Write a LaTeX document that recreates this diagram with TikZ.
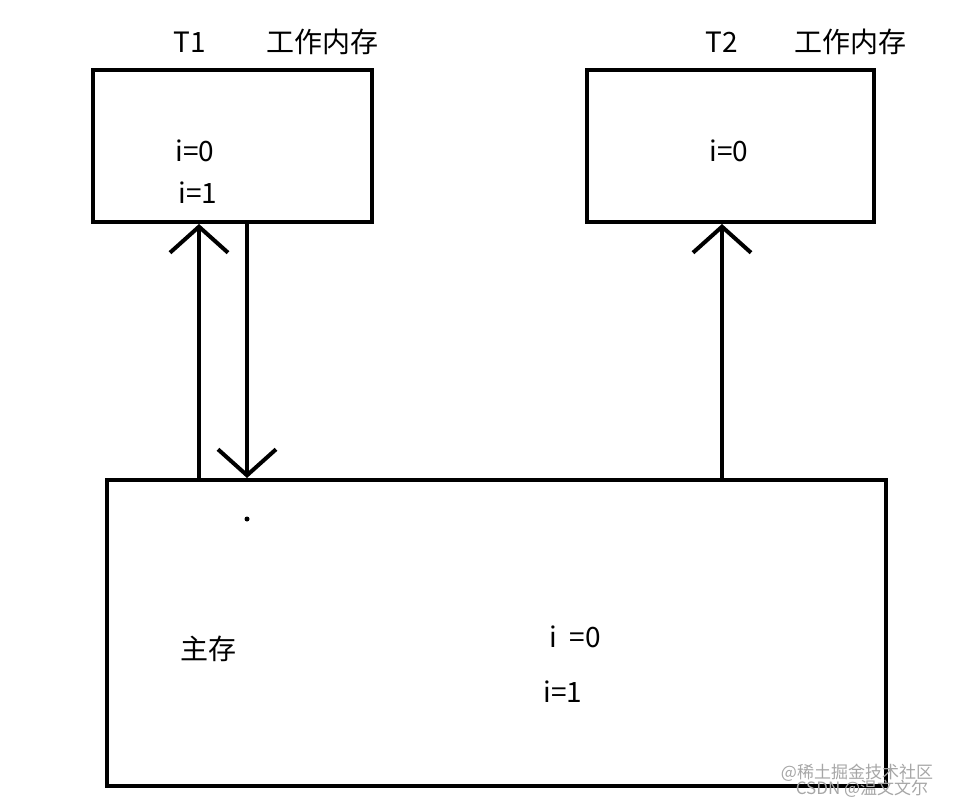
\documentclass[tikz,border=0pt]{standalone}
\usepackage{fontspec}
\setmainfont{Noto Sans CJK SC}
\usetikzlibrary{arrows.meta}
\begin{document}
\begin{tikzpicture}[x=1pt,y=-1pt,
  box/.style={draw,line width=4pt},
  conn/.style={line width=4pt,-{Straight Barb[length=26pt,width=58pt,line width=4pt]}},
  lbl/.style={font=\fontsize{28}{32}\selectfont},
  wm/.style={font=\fontsize{17}{19}\selectfont,text=gray!70}]
\useasboundingbox (0,0) rectangle (956,808);
\draw[box] (93,70) rectangle (372,222);
\draw[box] (587,70) rectangle (874,222);
\draw[box] (107,480) rectangle (886,786);
\coordinate (a1) at (199,480); \coordinate (a2) at (199,224);
\coordinate (b1) at (247,224); \coordinate (b2) at (247,478);
\coordinate (c1) at (722,480); \coordinate (c2) at (722,224);
\draw[conn] (a1) -- (a2);
\draw[conn] (b1) -- (b2);
\draw[conn] (c1) -- (c2);
\fill (247,519) circle (2.5pt);
\node[lbl] (t1) at (190,42) {T1};
\node[lbl] (w1) at (322,42) {工作内存};
\node[lbl] (t2) at (722,42) {T2};
\node[lbl] (w2) at (850,42) {工作内存};
\node[lbl] (i0a) at (195,151) {i=0};
\node[lbl] (i1a) at (198,193) {i=1};
\node[lbl] (i0b) at (729,151) {i=0};
\node[lbl] (zc) at (208,649) {主存};
\node[lbl] (i0m) at (575,637) {i\ \ =0};
\node[lbl] (i1m) at (563,692) {i=1};
\node[wm] (wm1) at (857,773) {@稀土掘金技术社区};
\node[wm] (wm2) at (862,789) {CSDN @温文文尔};
\end{tikzpicture}
\end{document}
